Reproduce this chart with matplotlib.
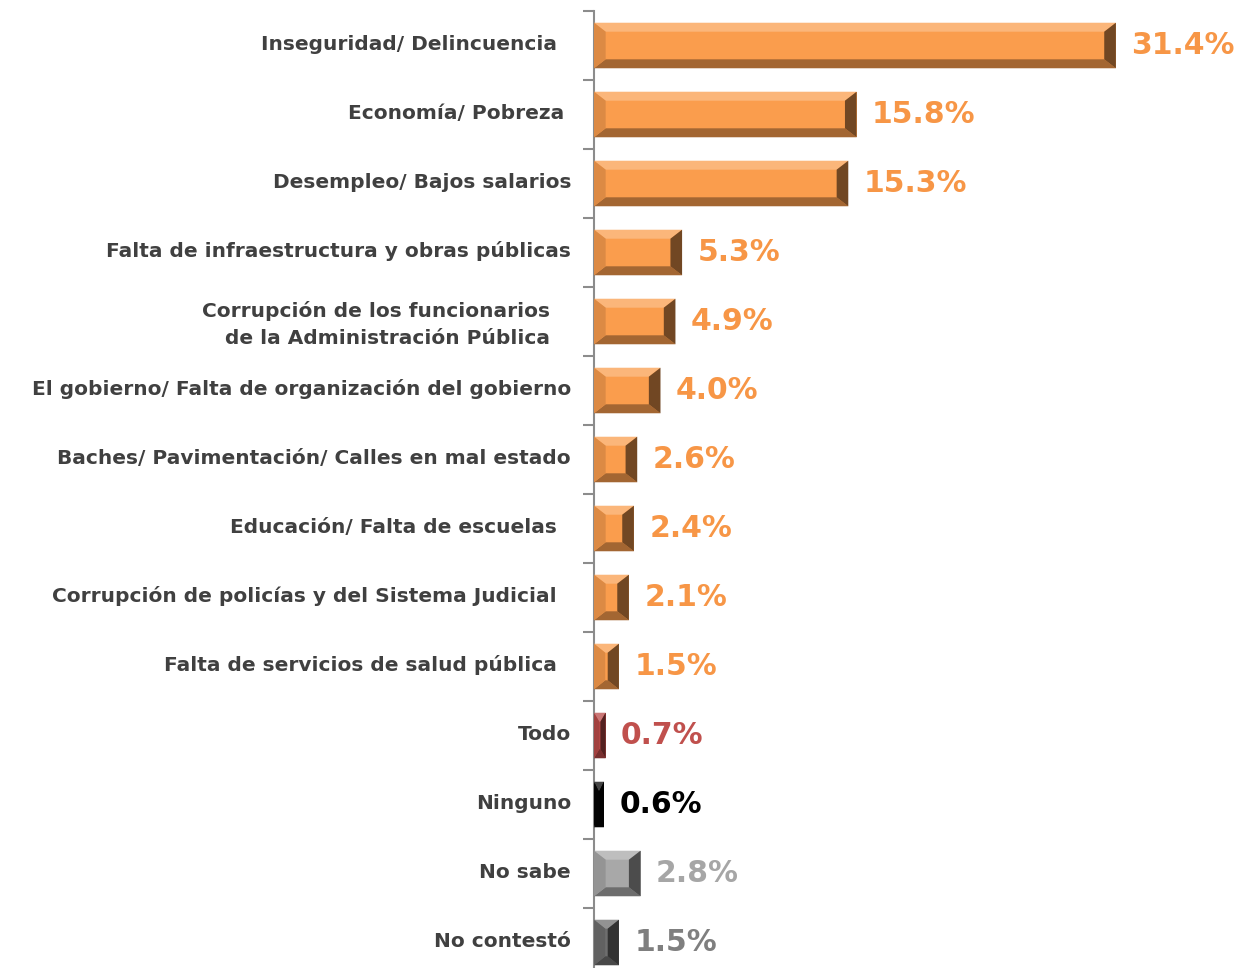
import numpy as np
import matplotlib
matplotlib.use("Agg")
import matplotlib.pyplot as plt
from matplotlib.patches import Polygon
import matplotlib.colors as mcolors
import matplotlib.transforms as mtransforms

# datos (de arriba hacia abajo)
categorias = [
    "Inseguridad/ Delincuencia  ",
    "Economía/ Pobreza ",
    "Desempleo/ Bajos salarios",
    "Falta de infraestructura y obras públicas",
    "Corrupción de los funcionarios   \nde la Administración Pública   ",
    "El gobierno/ Falta de organización del gobierno",
    "Baches/ Pavimentación/ Calles en mal estado",
    "Educación/ Falta de escuelas  ",
    "Corrupción de policías y del Sistema Judicial  ",
    "Falta de servicios de salud pública  ",
    "Todo",
    "Ninguno",
    "No sabe",
    "No contestó",
]
porcentajes = [31.4, 15.8, 15.3, 5.3, 4.9, 4.0, 2.6, 2.4, 2.1, 1.5, 0.7, 0.6, 2.8, 1.5]

naranja = "#FA9D4D"
colores_barra = [naranja] * 10 + ["#B84A48", "#050505", "#A8A8A8", "#6E6E6E"]
colores_texto = ["#F79646"] * 10 + ["#C0504D", "#000000", "#A6A6A6", "#7F7F7F"]

fig = plt.figure(figsize=(12.4, 9.68), dpi=100)
ax = fig.add_axes([594 / 1240, -9 / 968, 646 / 1240, 966 / 968])

y = np.arange(len(categorias))
alto = 0.66
barras = ax.barh(y, porcentajes, height=alto, color=colores_barra, zorder=2)


def tono(c, f):
    r, g, b = mcolors.to_rgb(c)
    if f >= 1:
        return (r + (1 - r) * (f - 1), g + (1 - g) * (f - 1), b + (1 - b) * (f - 1))
    return (r * f, g * f, b * f)


# efecto biselado
for b, c in zip(barras, colores_barra):
    x0, y0 = b.get_x(), b.get_y()
    w, h = b.get_width(), b.get_height()
    dx = min(0.7, w * 0.45)
    dy = 0.13
    x1, y1 = x0 + w, y0 + h
    arriba = [(x0, y0), (x1, y0), (x1 - dx, y0 + dy), (x0 + dx, y0 + dy)]
    abajo = [(x0, y1), (x1, y1), (x1 - dx, y1 - dy), (x0 + dx, y1 - dy)]
    izq = [(x0, y0), (x0 + dx, y0 + dy), (x0 + dx, y1 - dy), (x0, y1)]
    der = [(x1, y0), (x1 - dx, y0 + dy), (x1 - dx, y1 - dy), (x1, y1)]
    for pts, f in [(arriba, 1.25), (abajo, 0.65), (izq, 0.88), (der, 0.45)]:
        ax.add_patch(Polygon(pts, closed=True, facecolor=tono(c, f),
                             edgecolor="none", zorder=3))

for b, v, ct in zip(barras, porcentajes, colores_texto):
    ax.annotate(f"{v:.1f}%", (b.get_width(), b.get_y() + b.get_height() / 2),
                xytext=(11, 0), textcoords="offset points", va="center",
                ha="left", fontsize=21.5, fontweight="bold", color=ct)

ax.set_xlim(0, 646 / 16.62)
ax.set_ylim(len(categorias) - 0.5, -0.5)
ax.set_yticks(y)
ax.set_yticklabels(categorias, fontsize=14.5, fontweight="bold", color="#404040",
                   linespacing=1.55)
ax.tick_params(axis="y", length=0, pad=16.5)
subir = mtransforms.ScaledTranslation(0, 2.5 / 72, fig.dpi_scale_trans)
for t in ax.get_yticklabels():
    t.set_transform(t.get_transform() + subir)
ax.set_yticks(np.arange(len(categorias) + 1) - 0.5, minor=True)
ax.tick_params(axis="y", which="minor", length=8, width=1.5, color="#8C8C8C")
ax.set_xticks([])
for s in ["top", "right", "bottom"]:
    ax.spines[s].set_visible(False)
ax.spines["left"].set_color("#8C8C8C")
ax.spines["left"].set_linewidth(1.5)
ax.patch.set_alpha(0)

fig.savefig("out.png", dpi=100)
